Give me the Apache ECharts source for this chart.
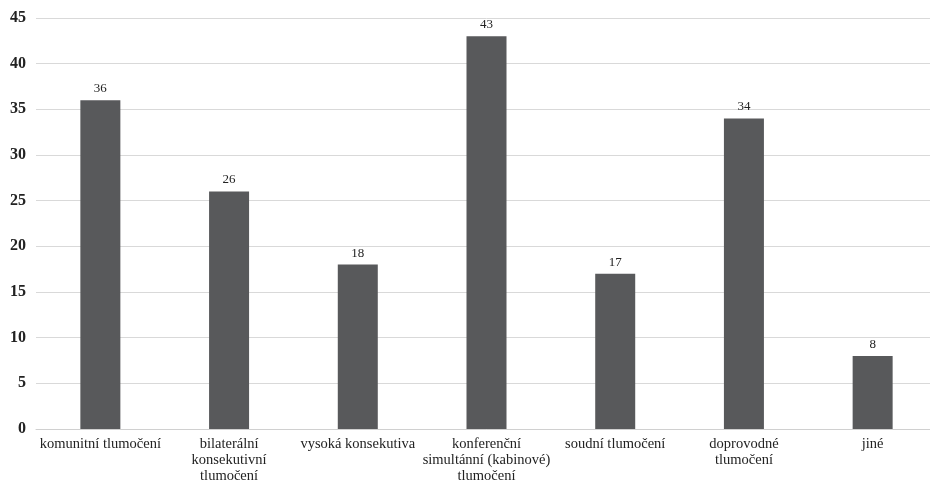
<!DOCTYPE html>
<html><head><meta charset="utf-8">
<script src="https://cdn.jsdelivr.net/npm/echarts@6/dist/echarts.min.js"></script>
<style>html,body{margin:0;padding:0;background:#fff;overflow:hidden;width:930px;height:485px}#c{width:937px;height:485px}</style>
</head><body><div id="c"></div>
<script>
const categories = ["komunitní tlumočení","bilaterální\nkonsekutivní\ntlumočení","vysoká konsekutiva","konferenční\nsimultánní (kabinové)\ntlumočení","soudní tlumočení","doprovodné\ntlumočení","jiné"];
const values = [36,26,18,43,17,34,8];
const chart = echarts.init(document.getElementById('c'));
const serif = '"Liberation Serif","DejaVu Serif",serif';
chart.setOption({
  animation:false,
  grid:{left:36,right:0,top:18,bottom:56},
  xAxis:{type:'category',data:categories,
    axisLine:{lineStyle:{color:'#d0d0d0'}},axisTick:{show:false},
    axisLabel:{interval:0,color:'#222',fontFamily:serif,fontSize:14.5,lineHeight:16,margin:7}},
  yAxis:{type:'value',min:0,max:45,interval:5,
    axisLine:{show:false},axisTick:{show:false},
    splitLine:{lineStyle:{color:'#d9d9d9'}},
    axisLabel:{color:'#222',fontFamily:serif,fontSize:16,fontWeight:'bold',margin:10}},
  series:[{type:'bar',data:values,barWidth:40,
    itemStyle:{color:'#58595b'},
    label:{show:true,position:'top',color:'#222',fontFamily:serif,fontSize:13,distance:5}}]
});
</script></body></html>
